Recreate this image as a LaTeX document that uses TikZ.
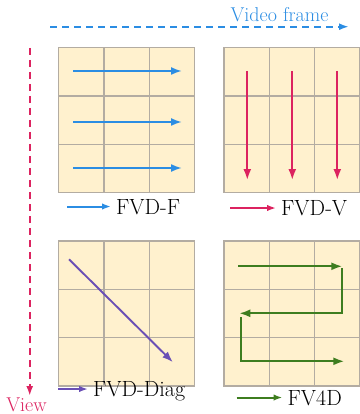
\documentclass[tikz,border=0pt]{standalone}
\usetikzlibrary{arrows.meta, positioning, calc}
\definecolor{frameblue}{HTML}{2B8DE3}
\definecolor{viewred}{HTML}{DC2360}
\definecolor{diagpurple}{HTML}{6A4FB5}
\definecolor{fourdgreen}{HTML}{3E7D1F}
\definecolor{cellfill}{HTML}{FFF1CE}
\definecolor{cellline}{HTML}{B3ACA2}

\begin{document}
\begin{tikzpicture}[x=1pt, y=-1pt, >={Latex[length=11pt,width=8pt]},
		gridbox/.style={draw=cellline, fill=cellfill, line width=1.3pt, minimum width=136pt, minimum height=145pt, inner sep=0pt,
			path picture={
				\foreach \t in {1,2} {
					\draw[cellline, line width=1.3pt] ($(path picture bounding box.north west)!\t/3!(path picture bounding box.north east)$) -- ($(path picture bounding box.south west)!\t/3!(path picture bounding box.south east)$);
					\draw[cellline, line width=1.3pt] ($(path picture bounding box.north west)!\t/3!(path picture bounding box.south west)$) -- ($(path picture bounding box.north east)!\t/3!(path picture bounding box.south east)$);
				}}},
		legend/.style={anchor=west, inner xsep=5pt, inner ysep=2pt, text depth=0pt, font=\fontsize{22}{26}\selectfont},
		flow/.style={->, line width=1.9pt},
		keyflow/.style={-{Latex[length=9pt,width=6.5pt]}, line width=2pt},
		axis/.style={line width=2pt, dash pattern=on 7pt off 5pt, -{Latex[length=10pt,width=7pt]}},
		axislabel/.style={text depth=0pt, inner sep=0pt}]
		
		\useasboundingbox (0,0) rectangle (359,414);
		
		% Grilles
		\node [gridbox, anchor=north west] (gf) at (58,47) {};
		\node [gridbox, right=28pt of gf] (gv) {};
		\node [gridbox, below=47pt of gf] (gd) {};
		\node [gridbox, right=28pt of gd] (g4) {};
		
		% Parcours
		\foreach \y in {24,75,121}
			\draw [flow, frameblue] ($(gf.north west)+(15,\y)$) -- ++(109,0);
		\foreach \x in {24,69,114}
			\draw [flow, viewred] ($(gv.north west)+(\x,24)$) -- ++(0,109);
		\draw [flow, diagpurple] ($(gd.north west)+(11,19)$) -- ++(104,103);
		\draw [flow, fourdgreen] ($(g4.north west)+(15,26)$) -- ++(104,0);
		\draw [flow, fourdgreen] ($(g4.north west)+(119,28)$) |- ($(g4.north west)+(16,73)$);
		\draw [flow, fourdgreen] ($(g4.north west)+(18,77)$) |- ($(g4.north west)+(121,121)$);
		
		% Legendes
		\node [legend] (lf) at (111,206.5) {FVD-F};
		\node [legend] (lv) at (276,208) {FVD-V};
		\node [legend] (ld) at (88,389) {FVD-Diag};
		\node [legend] (l4) at (282.5,397.5) {FV4D};
		\draw [keyflow, frameblue] ($(lf.west)+(-44,0)$) -- (lf.west);
		\draw [keyflow, viewred] ($(lv.west)+(-46,0)$) -- (lv.west);
		\draw [keyflow, diagpurple] ($(ld.west)+(-30,0)$) -- (ld.west);
		\draw [keyflow, fourdgreen] ($(l4.west)+(-46,0)$) -- (l4.west);
		
		% Axes
		\coordinate (fr0) at (50,26.7);
		\coordinate (fr1) at (349,26.7);
		\coordinate (vw0) at (29.7,48);
		\coordinate (vw1) at (29.7,396);
		\draw [axis, frameblue] (fr0) -- (fr1);
		\draw [axis, viewred] (vw0) -- (vw1);
		\node [axislabel, text=frameblue, font=\fontsize{20}{24}\selectfont] (vf) at (279.5,14.8) {Video frame};
		\node [axislabel, text=viewred, font=\fontsize{20}{24}\selectfont] (vw) at (26.5,404.5) {View};
		
	\end{tikzpicture}
\end{document}
